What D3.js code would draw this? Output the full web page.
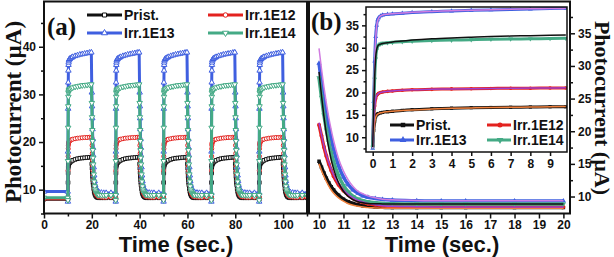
<!DOCTYPE html>
<html lang="en">
<head>
<meta charset="utf-8">
<title>Photocurrent</title>
<script src="https://d3js.org/d3.v7.min.js"></script>
<style>
  body { margin: 0; background: #fff; }
  svg text { font-family: Arial, "Liberation Sans", sans-serif; font-weight: bold; fill: #111; }
  svg text.serif { font-family: "Times New Roman", "Liberation Serif", serif; }
</style>
</head>
<body>
<svg id="chart" width="614" height="257"></svg>
<script>
// series
const names = ['Prist.', 'Irr.1E12', 'Irr.1E13', 'Irr.1E14']
const colors = ['#111111', '#e3221f', '#3f5fe0', '#44aa85']
const fitColors = ['#f0803c', '#9c3fd0', '#d07ce0', '#111111']

// (a) on/off cycles
const onTimes = [10, 30, 50, 70, 90]
const darkT = [0, 9.9]
const darkStart = [8.0, 8.1, 9.6, 8.3]

// rise, seconds after light on (inset)
const riseT = [0, 0.05, 0.1, 0.15, 0.2, 0.25, 0.3, 0.4, 0.5, 0.75, 1, 1.5, 2, 3, 4, 5, 6, 7, 8, 9, 9.8]
const risePrist = [8.0, 11.5, 13.5, 14.6, 15.0, 15.2, 15.3, 15.45, 15.55, 15.7, 15.8, 16.0, 16.15, 16.35, 16.5, 16.6, 16.65, 16.7, 16.75, 16.8, 16.8]
const rise1E12 = [8.0, 14.0, 17.0, 18.6, 19.3, 19.6, 19.8, 20.0, 20.1, 20.25, 20.35, 20.5, 20.6, 20.7, 20.8, 20.85, 20.9, 20.95, 20.95, 21.0, 21.0]
const rise1E13 = [7.5, 18.0, 27.0, 32.5, 35.0, 36.2, 36.7, 37.1, 37.3, 37.45, 37.55, 37.7, 37.85, 38.05, 38.2, 38.35, 38.45, 38.55, 38.65, 38.75, 38.8]
const rise1E14 = [7.8, 16.0, 23.0, 27.5, 29.5, 30.3, 30.6, 30.85, 31.0, 31.1, 31.2, 31.35, 31.45, 31.6, 31.7, 31.8, 31.9, 31.95, 32.0, 32.05, 32.1]
const riseFitPrist = [7.8, 11.0, 13.2, 14.4, 14.9, 15.15, 15.3, 15.45, 15.55, 15.7, 15.8, 15.95, 16.1, 16.3, 16.45, 16.55, 16.65, 16.7, 16.75, 16.8, 16.85]
const riseFit1E12 = [7.8, 13.5, 16.8, 18.5, 19.3, 19.6, 19.8, 20.0, 20.1, 20.25, 20.35, 20.5, 20.6, 20.7, 20.8, 20.85, 20.9, 20.95, 21.0, 21.0, 21.05]
const riseFit1E13 = [7.5, 17.5, 26.5, 32.0, 34.8, 36.0, 36.6, 37.1, 37.3, 37.5, 37.6, 37.75, 37.9, 38.1, 38.25, 38.4, 38.5, 38.6, 38.7, 38.75, 38.8]
const riseFit1E14 = [7.8, 16.5, 23.5, 27.8, 29.6, 30.3, 30.6, 30.8, 30.95, 31.1, 31.3, 31.5, 31.7, 32.0, 32.2, 32.35, 32.5, 32.6, 32.7, 32.8, 32.85]

// decay after light off (b)
const decT = [10.0, 10.1, 10.2, 10.3, 10.4, 10.5, 10.6, 10.8, 11.0, 11.2, 11.4, 11.6, 11.8, 12.0, 12.3, 12.6, 13, 14, 15, 16, 18, 20]
const decayPrist = [15.4, 14.5, 13.6, 12.8, 12.1, 11.5, 11.0, 10.2, 9.6, 9.2, 8.95, 8.75, 8.6, 8.5, 8.4, 8.35, 8.3, 8.3, 8.3, 8.3, 8.3, 8.3]
const decay1E12 = [21.0, 19.3, 17.6, 16.2, 15.0, 14.0, 13.1, 11.8, 10.9, 10.2, 9.7, 9.35, 9.1, 8.9, 8.75, 8.6, 8.5, 8.45, 8.4, 8.4, 8.4, 8.4]
const decay1E13 = [30.4, 27.5, 25.0, 22.7, 20.6, 18.8, 17.2, 14.7, 13.0, 11.8, 11.0, 10.5, 10.1, 9.9, 9.7, 9.55, 9.45, 9.35, 9.3, 9.3, 9.3, 9.3]
const decay1E14 = [28.2, 25.2, 22.5, 20.2, 18.3, 16.7, 15.3, 13.2, 11.7, 10.7, 10.0, 9.6, 9.35, 9.2, 9.05, 8.95, 8.9, 8.85, 8.85, 8.85, 8.85, 8.85]
const decayFitPrist = [15.0, 14.0, 13.1, 12.3, 11.6, 11.0, 10.5, 9.8, 9.3, 8.9, 8.65, 8.5, 8.4, 8.3, 8.25, 8.2, 8.2, 8.2, 8.2, 8.2, 8.2, 8.2]
const decayFit1E12 = [21.3, 19.5, 17.8, 16.4, 15.2, 14.2, 13.3, 12.0, 11.0, 10.3, 9.8, 9.4, 9.15, 8.95, 8.75, 8.6, 8.5, 8.45, 8.4, 8.4, 8.4, 8.4]
const decayFit1E13 = [32.7, 29.6, 26.8, 24.3, 22.1, 20.2, 18.5, 15.8, 13.9, 12.5, 11.5, 10.8, 10.4, 10.1, 9.8, 9.6, 9.5, 9.4, 9.35, 9.35, 9.35, 9.35]
const decayFit1E14 = [29.1, 25.5, 22.3, 19.6, 17.4, 15.6, 14.2, 12.1, 10.8, 10.0, 9.5, 9.2, 9.05, 8.95, 8.9, 8.87, 8.85, 8.85, 8.85, 8.85, 8.85, 8.85]

// ticks
const ticksAx = [0, 20, 40, 60, 80, 100]
const ticksAxMinor = [10, 30, 50, 70, 90, 110]
const ticksAy = [10, 20, 30, 40]
const ticksAyMinor = [5, 15, 25, 35, 45]
const ticksBx = [10, 11, 12, 13, 14, 15, 16, 17, 18, 19, 20]
const ticksBy = [10, 15, 20, 25, 30, 35]
const ticksByMinor = [12.5, 17.5, 22.5, 27.5, 32.5, 37.5]
const ticksIx = [0, 1, 2, 3, 4, 5, 6, 7, 8, 9]
const ticksIy = [10, 15, 20, 25, 30, 35]
const ticksIyMinor = [7.5, 12.5, 17.5, 22.5, 27.5, 32.5, 37.5]

const rises = [risePrist, rise1E12, rise1E13, rise1E14]
const riseFits = [riseFitPrist, riseFit1E12, riseFit1E13, riseFit1E14]
const decays = [decayPrist, decay1E12, decay1E13, decay1E14]
const decayFits = [decayFitPrist, decayFit1E12, decayFit1E13, decayFit1E14]

const symbols = [d3.symbolSquare, d3.symbolCircle, d3.symbolTriangle, d3.symbolTriangle]
const symRot = [0, 0, 0, 180]

const svg = d3.select('#chart')

// scales
const xA = d3.scaleLinear([0, 110], [44, 307])
const yA = d3.scaleLinear([5, 49.5], [213.5, 1.5])
const xB = d3.scaleLinear([9.59, 20.27], [309, 570])
const yB = d3.scaleLinear([7.4, 39.87], [213.5, 1.5])
const xI = d3.scaleLinear([-0.34, 9.86], [366, 567])
const yI = d3.scaleLinear([6.7, 39.1], [152, 7])

function clip(id, x, y) {
  svg.append('clipPath').attr('id', id).append('rect')
    .attr('x', x.range()[0]).attr('y', y.range()[1])
    .attr('width', x.range()[1] - x.range()[0])
    .attr('height', y.range()[0] - y.range()[1])
}
clip('clipA', xA, yA)
clip('clipB', xB, yB)
clip('clipI', xI, yI)

function axis(gen, pos, values, size, labels, pad = 3) {
  const g = svg.append('g').attr('transform', pos)
    .call(gen.tickValues(values).tickSize(size).tickSizeOuter(0).tickPadding(pad)
      .tickFormat(labels ? d3.format('d') : ''))
  g.select('.domain').remove()
  g.selectAll('.tick line').attr('stroke', '#111').attr('stroke-width', 1.5)
  g.selectAll('.tick text').attr('font-size', 12).attr('fill', '#111')
  return g
}

// ---- panel (a) ----
const gA = svg.append('g').attr('clip-path', 'url(#clipA)')
names.forEach((n, i) => {
  const pts = darkT.map(t => [t, darkStart[i]])
  onTimes.forEach(on => {
    riseT.forEach((t, k) => pts.push([on + t, rises[i][k]]))
    decT.forEach((t, k) => pts.push([on + t, decays[i][k]]))
  })
  gA.append('path')
    .attr('d', d3.line().x(d => xA(d[0])).y(d => yA(d[1]))(pts))
    .attr('fill', 'none').attr('stroke', colors[i]).attr('stroke-width', 3)
  gA.selectAll(null).data(pts).join('path')
    .attr('d', d3.symbol(symbols[i], 13))
    .attr('transform', d => `translate(${xA(d[0])},${yA(d[1])}) rotate(${symRot[i]})`)
    .attr('fill', '#fff').attr('stroke', colors[i]).attr('stroke-width', 1)
})

axis(d3.axisBottom(xA), 'translate(0,213.5)', ticksAx, 5, true, 2)
axis(d3.axisBottom(xA), 'translate(0,213.5)', ticksAxMinor, 3, false)
axis(d3.axisLeft(yA), 'translate(44,0)', ticksAy, 5, true)
axis(d3.axisLeft(yA), 'translate(44,0)', ticksAyMinor, 3, false)

svg.append('rect').attr('x', 44).attr('y', 1.5).attr('width', 263).attr('height', 212)
  .attr('fill', 'none').attr('stroke', '#111').attr('stroke-width', 2)

// legend (a)
const legA = [[87, 15], [208, 15], [87, 33], [208, 33]]
names.forEach((n, i) => {
  const [lx, ly] = legA[i]
  svg.append('line').attr('x1', lx).attr('x2', lx + 35).attr('y1', ly).attr('y2', ly)
    .attr('stroke', colors[i]).attr('stroke-width', 3)
  svg.append('path').attr('d', d3.symbol(symbols[i], 16))
    .attr('transform', `translate(${lx + 17.5},${ly}) rotate(${symRot[i]})`)
    .attr('fill', '#fff').attr('stroke', colors[i]).attr('stroke-width', 1)
  svg.append('text').attr('x', lx + 37).attr('y', ly + 5).attr('font-size', 14).text(n)
})
svg.append('text').attr('class', 'serif').attr('x', 47).attr('y', 35).attr('font-size', 25).text('(a)')

// ---- panel (b) ----
const gB = svg.append('g').attr('clip-path', 'url(#clipB)')
names.forEach((n, i) => {
  const pts = decT.map((t, k) => [t, decays[i][k]])
  gB.append('path')
    .attr('d', d3.line().curve(d3.curveMonotoneX).x(d => xB(d[0])).y(d => yB(d[1]))(pts))
    .attr('fill', 'none').attr('stroke', colors[i]).attr('stroke-width', 3.5)
  gB.selectAll(null).data(pts).join('path')
    .attr('d', d3.symbol(symbols[i], 12))
    .attr('transform', d => `translate(${xB(d[0])},${yB(d[1])}) rotate(${symRot[i]})`)
    .attr('fill', colors[i])
})
names.forEach((n, i) => {
  const pts = decT.map((t, k) => [t, decayFits[i][k]])
  gB.append('path')
    .attr('d', d3.line().curve(d3.curveMonotoneX).x(d => xB(d[0])).y(d => yB(d[1]))(pts))
    .attr('fill', 'none').attr('stroke', fitColors[i]).attr('stroke-width', 1.5)
})

axis(d3.axisBottom(xB), 'translate(0,213.5)', ticksBx, 5, true, 2)
axis(d3.axisRight(yB), 'translate(570,0)', ticksBy, 5, true)
axis(d3.axisRight(yB), 'translate(570,0)', ticksByMinor, 3, false)

svg.append('rect').attr('x', 309).attr('y', 1.5).attr('width', 261).attr('height', 212)
  .attr('fill', 'none').attr('stroke', '#111').attr('stroke-width', 2)

// ---- inset ----
svg.append('rect').attr('x', 366).attr('y', 7).attr('width', 201).attr('height', 145).attr('fill', '#fff')
const gI = svg.append('g').attr('clip-path', 'url(#clipI)')
names.forEach((n, i) => {
  const pts = riseT.map((t, k) => [t, rises[i][k]])
  gI.append('path')
    .attr('d', d3.line().curve(d3.curveMonotoneX).x(d => xI(d[0])).y(d => yI(d[1]))(pts))
    .attr('fill', 'none').attr('stroke', colors[i]).attr('stroke-width', 3)
  gI.selectAll(null).data(pts).join('path')
    .attr('d', d3.symbol(symbols[i], 10))
    .attr('transform', d => `translate(${xI(d[0])},${yI(d[1])}) rotate(${symRot[i]})`)
    .attr('fill', colors[i])
})
names.forEach((n, i) => {
  const pts = riseT.map((t, k) => [t, riseFits[i][k]])
  gI.append('path')
    .attr('d', d3.line().curve(d3.curveMonotoneX).x(d => xI(d[0])).y(d => yI(d[1]))(pts))
    .attr('fill', 'none').attr('stroke', fitColors[i]).attr('stroke-width', 1.5)
})

axis(d3.axisBottom(xI), 'translate(0,152)', ticksIx, 4, true)
axis(d3.axisLeft(yI), 'translate(366,0)', ticksIy, 4, true)
axis(d3.axisLeft(yI), 'translate(366,0)', ticksIyMinor, 2.5, false)
svg.append('rect').attr('x', 366).attr('y', 7).attr('width', 201).attr('height', 145)
  .attr('fill', 'none').attr('stroke', '#111').attr('stroke-width', 1.5)

// legend inset
const legI = [[390, 125], [487, 125], [390, 140], [487, 140]]
names.forEach((n, i) => {
  const [lx, ly] = legI[i]
  svg.append('line').attr('x1', lx).attr('x2', lx + 24).attr('y1', ly).attr('y2', ly)
    .attr('stroke', colors[i]).attr('stroke-width', 3)
  svg.append('path').attr('d', d3.symbol(symbols[i], 20))
    .attr('transform', `translate(${lx + 13},${ly}) rotate(${symRot[i]})`)
    .attr('fill', colors[i])
  svg.append('text').attr('x', lx + 26).attr('y', ly + 5).attr('font-size', 14).text(n)
})

svg.append('text').attr('class', 'serif').attr('x', 311).attr('y', 30).attr('font-size', 25).text('(b)')

// axis titles
svg.append('text').attr('x', 176).attr('y', 252).attr('text-anchor', 'middle').attr('font-size', 22).text('Time (sec.)')
svg.append('text').attr('x', 442).attr('y', 252).attr('text-anchor', 'middle').attr('font-size', 22).text('Time (sec.)')
svg.append('text').attr('class', 'serif').attr('text-anchor', 'middle').attr('font-size', 23)
  .attr('transform', 'translate(21,112) rotate(-90)').text('Photocurrent (µA)')
svg.append('text').attr('class', 'serif').attr('text-anchor', 'middle').attr('font-size', 22)
  .attr('transform', 'translate(595,108) rotate(90)').text('Photocurrent (µA)')
</script>
</body>
</html>
